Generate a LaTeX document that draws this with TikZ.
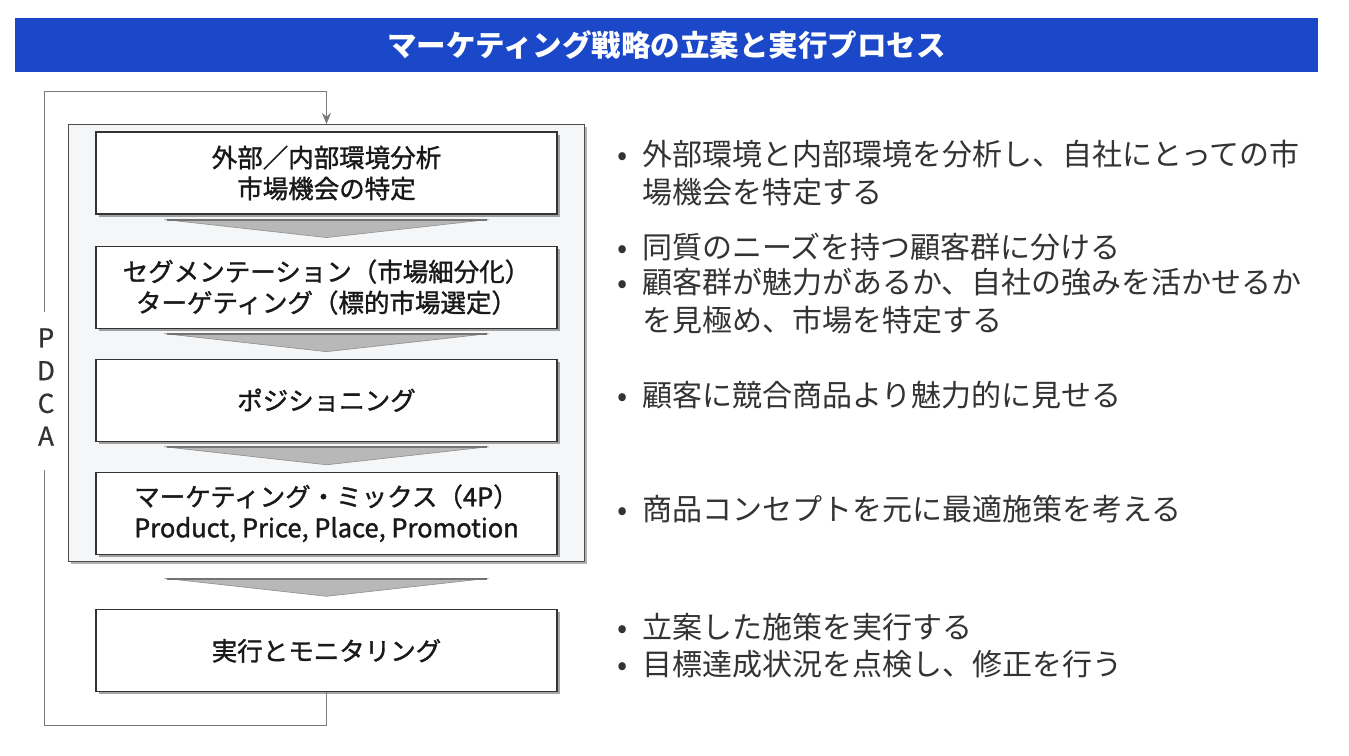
\documentclass[tikz,border=0pt]{standalone}
\usepackage{fontspec}
\setmainfont{Noto Sans CJK JP}
\newfontfamily\boxfont[FakeBold=1.3]{Noto Sans CJK JP}
\newfontfamily\pdcafont[FakeBold=0.8]{Noto Sans CJK JP}
\usetikzlibrary{calc,positioning,fit,shadows,backgrounds,arrows.meta}
\definecolor{titleblue}{HTML}{1B48C8}
\definecolor{textgray}{HTML}{333333}
\definecolor{loopgray}{HTML}{7A7A7A}
\definecolor{panelgray}{HTML}{F5F6F8}
\newcommand\bul{\makebox[16pt]{•}\hspace*{12pt}}
\newcommand\ind{\hspace*{28pt}}

\begin{document}
\begin{tikzpicture}[x=1pt,y=-1pt,
    titlebar/.style={fill=titleblue,minimum width=1303pt,minimum height=54pt,inner sep=0pt,
        text=white,font=\fontsize{29.5}{30}\selectfont\bfseries},
    stepbox/.style={draw=black!80,line width=1.1pt,fill=white,minimum width=461pt,minimum height=82pt,
        inner sep=0pt,align=center,text=black!90,font=\boxfont\fontsize{25.5}{31}\selectfont,
        drop shadow={shadow xshift=2.5pt,shadow yshift=-2.5pt,fill=black,opacity=0.35}},
    panel/.style={draw=black!70,line width=0.9pt,fill=panelgray,inner xsep=27pt,inner ysep=7pt,
        drop shadow={shadow xshift=2.5pt,shadow yshift=-2.5pt,fill=black,opacity=0.3}},
    chevron/.style={fill=black!28,draw=black!45,line width=0.6pt},
    loopline/.style={draw=loopgray,line width=1pt},
    note/.style={anchor=north west,inner sep=0pt,align=left,text=textgray,
        font=\fontsize{30}{37.5}\selectfont},
    pdcalabel/.style={inner sep=0pt,align=center,text=textgray,
        font=\pdcafont\fontsize{26}{32.7}\selectfont}]

\begin{scope}[on background layer]
    \fill[white] (0,0) rectangle (1349,755);
\end{scope}
\useasboundingbox (0,0) rectangle (1349,755);

% === Title ===
\node[titlebar] (title) at (666.5,45) {マーケティング戦略の立案と実行プロセス};

% === Planning steps ===
\node[stepbox] (s1) at (326.5,173) {外部／内部環境分析\\市場機会の特定};
\node[stepbox,below=31pt of s1] (s2) {セグメンテーション（市場細分化）\\ターゲティング（標的市場選定）};
\node[stepbox,below=30pt of s2] (s3) {ポジショニング};
\node[stepbox,below=30pt of s3] (s4) {マーケティング・ミックス（4P）\\Product, Price, Place, Promotion};

% panel round the planning steps
\begin{scope}[on background layer]
    \node[panel,fit=(s1)(s4)] (plan) {};
\end{scope}

% === Execution ===
\node[stepbox,below=47pt of plan] (s5) {実行とモニタリング};

% chevrons between the steps
\foreach \a/\b/\g in {s1/s2/5,s2/s3/5,s3/s4/5,plan/s5/16} {
    \filldraw[chevron] ($(\a.south)+(-162,\g)$) -- ($(\a.south)+(162,\g)$)
        -- ($(\a.south)+(0,\g+18)$) -- cycle;
    \draw[black!55,line width=2pt] ($(\a.south)+(-160,\g+0.5)$) -- ($(\a.south)+(160,\g+0.5)$);
}

% === PDCA loop ===
\node[pdcalabel] (pdca) at (46,387) {P\\D\\C\\A};
\coordinate (pdcatop) at ($(pdca.north)+(-2,-16)$);
\coordinate (pdcabot) at ($(pdca.south)+(-2,24)$);
\coordinate (loopbot) at ($(s5.south)+(0,33)$);
\coordinate (looptop) at ($(plan.north)+(0,-33)$);
\draw[loopline] (s5.south) -- (loopbot) -| (pdcabot);
\draw[loopline,-{Stealth[length=11pt,width=9pt]}] (pdcatop) |- (looptop) -- (plan.north);

% === Notes ===
\node[note] (n1) at (614,140) {\bul 外部環境と内部環境を分析し、自社にとっての市\\\ind 場機会を特定する};
\node[note] (n2) at (614,233) {\bul 同質のニーズを持つ顧客群に分ける};
\node[note] (n3) at (614,268) {\bul 顧客群が魅力があるか、自社の強みを活かせるか\\\ind を見極め、市場を特定する};
\node[note] (n4) at (614,381) {\bul 顧客に競合商品より魅力的に見せる};
\node[note] (n5) at (614,495) {\bul 商品コンセプトを元に最適施策を考える};
\node[note] (n6) at (614,613) {\bul 立案した施策を実行する};
\node[note] (n7) at (614,650) {\bul 目標達成状況を点検し、修正を行う};

\end{tikzpicture}
\end{document}
